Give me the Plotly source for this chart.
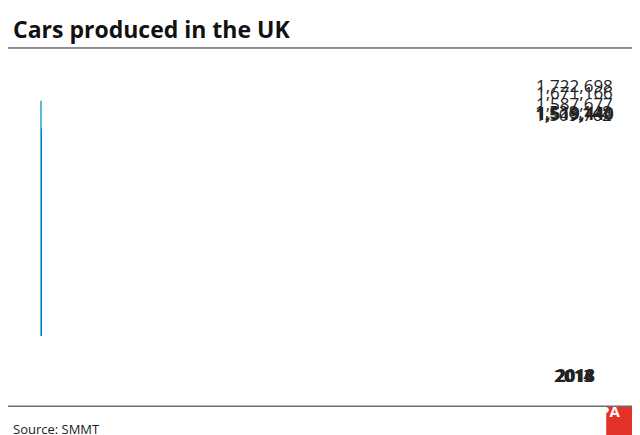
import plotly.graph_objects as go

years = ["2013", "2014", "2015", "2016", "2017", "2018"]
cars = [1509762, 1528148, 1587677, 1722698, 1671166, 1519440]
colors = ["#5ab8e0"] * 5 + ["#0083c0"]

fig = go.Figure(go.Bar(x=years, y=cars, marker=dict(color=colors, line=dict(width=0)),
                       hoverinfo="skip"))
F = "Open Sans"
for i, (yr, v) in enumerate(zip(years, cars)):
    last = i == len(years) - 1
    fig.add_annotation(x=yr, y=v, text=(f"<b>{v:,}</b>" if last else f"{v:,}"), showarrow=False,
                       yanchor="bottom", yshift=2, font=dict(family=F, size=17, color="#222"))
    fig.add_annotation(x=yr, y=0, text=(f"<b>{yr}</b>" if last else yr), showarrow=False,
                       yanchor="top", yshift=-26, font=dict(family=F, size=17, color="#222"))

fig.add_annotation(xref="paper", yref="paper", x=-0.05, y=1.19, xanchor="left", yanchor="top",
                   text="<b>Cars produced in the UK</b>", showarrow=False,
                   font=dict(family=F, size=23, color="#111"))
fig.add_annotation(xref="paper", yref="paper", x=-0.05, y=-0.3, xanchor="left", yanchor="top",
                   text="Source: SMMT", showarrow=False, font=dict(family=F, size=13, color="#222"))
fig.add_shape(type="line", xref="paper", yref="paper", x0=-0.06, x1=1.06, y0=1.055, y1=1.055,
              line=dict(color="#222", width=1))
fig.add_shape(type="line", xref="paper", yref="paper", x0=-0.06, x1=1.06, y0=-0.257, y1=-0.257,
              line=dict(color="#222", width=1))
fig.add_shape(type="rect", xref="paper", yref="paper", x0=0.983, x1=1.038, y0=-0.26, y1=-0.377,
              fillcolor="#e4322b", line=dict(width=0))
fig.add_annotation(xref="paper", yref="paper", x=1.0105, y=-0.318, text="<b>PA</b>", showarrow=False,
                   font=dict(family=F, size=15, color="white"))

fig.update_layout(width=640, height=435, margin=dict(l=32, r=32, t=55, b=107),
                  paper_bgcolor="white", plot_bgcolor="white", showlegend=False, bargap=0.125,
                  xaxis=dict(type="category", showticklabels=False, showgrid=False, zeroline=False),
                  yaxis=dict(range=[0, 2000000], visible=False))
fig.write_html("out.html")
